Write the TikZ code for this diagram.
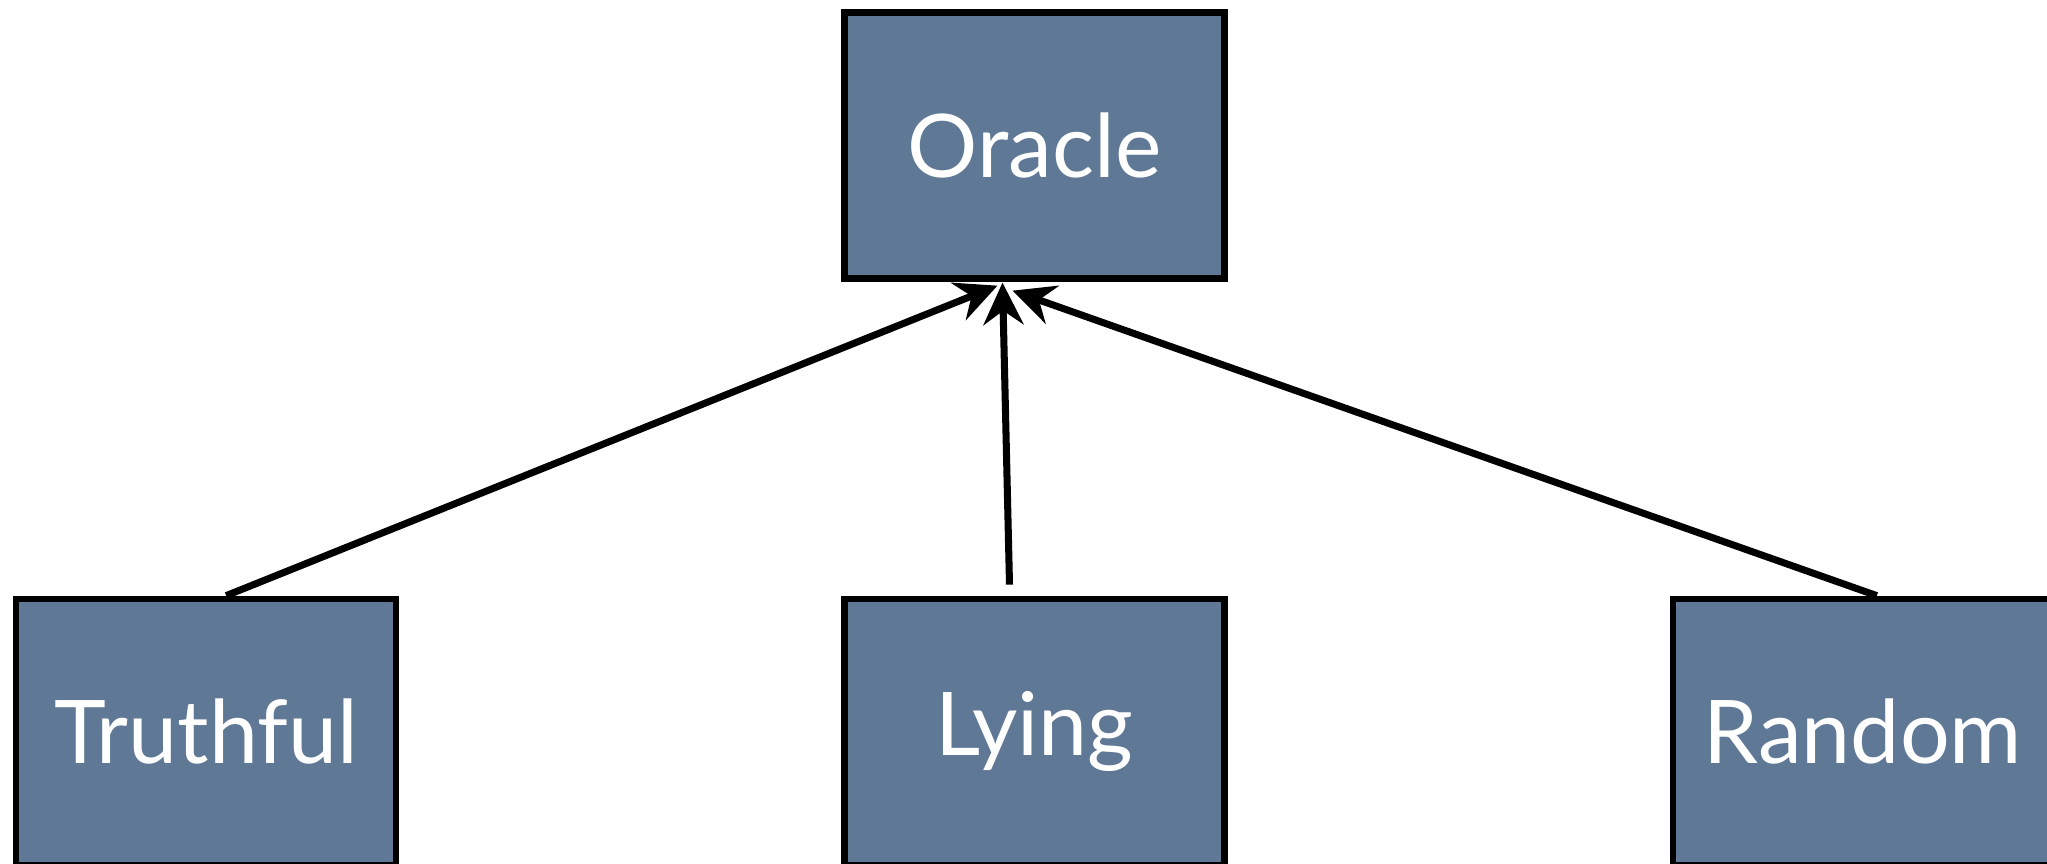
\documentclass[tikz,border=0pt]{standalone}
\usepackage{fontspec}
\setmainfont{Lato}
\usepackage{xcolor}
\usetikzlibrary{arrows.meta, positioning}
\definecolor{slate}{HTML}{5E7895}
\tikzset{
    block/.style={
        rectangle,
        draw=black,
        line width=1.8pt,
        minimum width=3.8cm,
        minimum height=2.66cm,
        fill=slate,
        text=white,
        font=\fontsize{25}{30}\selectfont
    },
    link/.style={
        draw=black,
        line width=2pt,
        -{Stealth[length=0.42cm, width=0.4cm, inset=0.14cm]}
    }
}
\begin{document}
\begin{tikzpicture}[node distance=3.14cm and 4.42cm]
\useasboundingbox (0,0) rectangle (20.47,8.63);

% Top: the oracle
\node[block] (oracle) at (10.345,7.175) {Oracle};

% Bottom: the three kinds of answer
\node[block, below=of oracle] (lying) {Lying};
\node[block, left=of lying] (truthful) {Truthful};
\node[block, right=of lying] (random) {Random};

\draw[link] ([xshift=0.2cm]truthful.north) -- ([xshift=-0.37cm, yshift=-0.04cm]oracle.south);
\draw[link] ([xshift=-0.25cm, yshift=0.11cm]lying.north) -- ([xshift=-0.32cm, yshift=-0.01cm]oracle.south);
\draw[link] ([xshift=0.14cm]random.north) -- ([xshift=-0.22cm, yshift=-0.09cm]oracle.south);

\end{tikzpicture}
\end{document}
